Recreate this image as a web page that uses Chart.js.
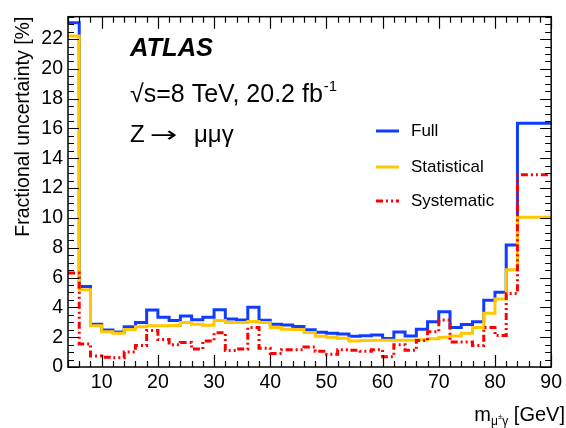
<!DOCTYPE html>
<html>
<head>
<meta charset="utf-8">
<script src="https://cdn.jsdelivr.net/npm/chart.js@4.4.1/dist/chart.umd.min.js"></script>
<style>
  html, body { margin: 0; padding: 0; background: #fff; }
  #c { display: block; }
</style>
</head>
<body>
<canvas id="c" width="566" height="428"></canvas>
<script>
// Bin edges of m(mu gamma) [GeV] and fractional uncertainties [%] per bin
const binEdges = [4, 6, 8, 10, 12, 14, 16, 18, 20, 22, 24, 26, 28, 30, 32, 34, 36, 38, 40, 42, 44,
                  46, 48, 50, 52, 54, 56, 58, 60, 62, 64, 66, 68, 70, 72, 74, 76, 78, 80, 82, 84, 90];
const fullUnc = [23.1, 5.4, 2.87, 2.48, 2.35, 2.7, 2.98, 3.82, 3.33, 3.12, 3.42, 3.17, 3.33, 3.84,
                 3.22, 3.15, 4.01, 3.14, 2.87, 2.81, 2.72, 2.5, 2.33, 2.26, 2.22, 2.06, 2.1, 2.15,
                 1.92, 2.34, 2.08, 2.54, 3.03, 3.7, 2.65, 2.85, 3.03, 4.47, 5.02, 8.18, 16.36];
const statUnc = [22.2, 5.18, 2.77, 2.37, 2.27, 2.52, 2.7, 2.76, 2.76, 2.78, 2.98, 2.87, 2.8, 3.12,
                 2.98, 2.98, 3.05, 2.98, 2.65, 2.54, 2.52, 2.32, 2.06, 2.0, 1.93, 1.75, 1.78, 1.8,
                 1.8, 1.8, 1.8, 1.83, 1.89, 2.0, 2.08, 2.26, 2.65, 3.6, 4.56, 6.53, 10.04];
const systUnc = [6.3, 1.55, 0.73, 0.65, 0.62, 1.0, 1.45, 2.45, 1.85, 1.5, 1.65, 1.2, 1.75, 2.3,
                 1.1, 1.2, 2.65, 1.25, 0.9, 1.16, 1.16, 1.35, 1.05, 0.85, 1.15, 1.12, 1.05, 1.15,
                 0.68, 1.5, 1.12, 1.78, 2.37, 3.15, 1.67, 1.67, 1.45, 2.65, 2.12, 4.93, 12.9];
const xTickValues = [10, 20, 30, 40, 50, 60, 70, 80, 90];
const yTickValues = [0, 2, 4, 6, 8, 10, 12, 14, 16, 18, 20, 22];
const seriesNames = ['Full', 'Statistical', 'Systematic'];

const X_MIN = 4, X_MAX = 90, Y_MIN = 0, Y_MAX = 23.5;
const FONT = '"Liberation Sans", Arial, Helvetica, sans-serif';
const BLUE = '#0f3cff', YELLOW = '#ffc800', RED = '#ff0000';
const RED_DASH = [7, 3, 2, 3, 2, 3];

// histogram outline: one point per lower edge, last value repeated at the upper edge
function steps(values) {
  return binEdges.map((e, i) => ({ x: e, y: values[Math.min(i, values.length - 1)] }));
}

// inward ticks on all four sides plus the frame
const frameTicks = {
  id: 'frameTicks',
  afterDatasetsDraw(chart) {
    const { ctx, chartArea: a, scales: { x, y } } = chart;
    ctx.save();
    ctx.strokeStyle = '#000';
    ctx.lineWidth = 1.2;
    ctx.beginPath();
    for (let v = X_MIN; v <= X_MAX + 1e-6; v += 2) {
      const px = Math.round(x.getPixelForValue(v)) + 0.5;
      const len = (v % 10 === 0) ? 12 : 6;
      ctx.moveTo(px, a.bottom); ctx.lineTo(px, a.bottom - len);
      ctx.moveTo(px, a.top); ctx.lineTo(px, a.top + len);
    }
    for (let v = Y_MIN; v <= Y_MAX + 1e-6; v += 0.5) {
      const py = Math.round(y.getPixelForValue(v)) + 0.5;
      const len = (Math.abs(v % 2) < 1e-6) ? 11 : 6;
      ctx.moveTo(a.left, py); ctx.lineTo(a.left + len, py);
      ctx.moveTo(a.right, py); ctx.lineTo(a.right - len, py);
    }
    ctx.stroke();
    ctx.lineWidth = 1.5;
    ctx.strokeRect(a.left, a.top, a.right - a.left, a.bottom - a.top);
    ctx.restore();
  }
};

// axis titles, labels and the legend
const annotations = {
  id: 'annotations',
  afterDraw(chart) {
    const { ctx, chartArea: a } = chart;
    ctx.save();
    ctx.fillStyle = '#000';

    // y axis title, aligned to the top of the frame
    ctx.save();
    ctx.translate(24, a.top);
    ctx.rotate(-Math.PI / 2);
    ctx.font = '19.5px ' + FONT;
    ctx.textAlign = 'right';
    ctx.textBaseline = 'middle';
    ctx.fillText('Fractional uncertainty [%]', 0, 0);
    ctx.restore();

    // x axis title m_{mu gamma} [GeV], right aligned
    const base = 421;
    const parts = [
      { t: 'm', f: '20px ', dy: 0 },
      { t: 'μ', f: '12px ', dy: 4 },
      { t: '±', f: '8px ', dy: -2 },
      { t: 'γ', f: '12px ', dy: 4 },
      { t: ' [GeV]', f: '20px ', dy: 0 }
    ];
    let total = 0;
    parts.forEach(p => { ctx.font = p.f + FONT; p.w = ctx.measureText(p.t).width; total += p.w; });
    let cx = 565 - total;
    ctx.textAlign = 'left';
    ctx.textBaseline = 'alphabetic';
    parts.forEach(p => { ctx.font = p.f + FONT; ctx.fillText(p.t, cx, base + p.dy); cx += p.w; });

    // experiment label
    ctx.font = 'italic bold 25.5px ' + FONT;
    ctx.fillText('ATLAS', 130, 56);
    ctx.font = '25px ' + FONT;
    const lumi = '√s=8 TeV, 20.2 fb';
    ctx.fillText(lumi, 130, 102);
    const wl = ctx.measureText(lumi).width;
    ctx.font = '15px ' + FONT;
    ctx.fillText('-1', 130 + wl + 1, 91);

    // Z -> mu mu gamma, with a long arrow
    ctx.font = '24px ' + FONT;
    ctx.fillText('Z', 130, 142);
    ctx.save();
    ctx.translate(150, 142);
    ctx.scale(1.5, 1);
    ctx.font = '22px "DejaVu Sans", sans-serif';
    ctx.fillText('→', 0, 0);
    ctx.restore();
    ctx.font = '24px ' + FONT;
    ctx.fillText('μμγ', 194, 142);

    // legend
    const items = [
      { c: BLUE, d: [], y: 131 },
      { c: YELLOW, d: [], y: 167 },
      { c: RED, d: RED_DASH, y: 201 }
    ];
    items.forEach((it, i) => {
      ctx.strokeStyle = it.c;
      ctx.lineWidth = 3;
      ctx.setLineDash(it.d);
      ctx.beginPath();
      ctx.moveTo(376, it.y); ctx.lineTo(399, it.y);
      ctx.stroke();
      ctx.setLineDash([]);
      ctx.font = '17px ' + FONT;
      ctx.textBaseline = 'middle';
      ctx.fillStyle = '#000';
      ctx.fillText(seriesNames[i], 411, it.y);
    });
    ctx.restore();
  }
};

new Chart(document.getElementById('c'), {
  type: 'line',
  data: {
    datasets: [
      { label: seriesNames[2], data: steps(systUnc), borderColor: RED, borderDash: RED_DASH, order: 1 },
      { label: seriesNames[1], data: steps(statUnc), borderColor: YELLOW, order: 2 },
      { label: seriesNames[0], data: steps(fullUnc), borderColor: BLUE, order: 3 }
    ].map(d => Object.assign({
      stepped: 'before', borderWidth: 3, pointRadius: 0, fill: false, tension: 0
    }, d))
  },
  options: {
    responsive: false,
    animation: false,
    devicePixelRatio: 1,
    layout: { padding: { top: 9, right: 3, left: 0, bottom: 0 } },
    plugins: { legend: { display: false }, tooltip: { enabled: false } },
    scales: {
      x: {
        type: 'linear', min: X_MIN, max: X_MAX,
        grid: { display: false, drawTicks: false },
        border: { display: false },
        afterBuildTicks: s => { s.ticks = xTickValues.map(v => ({ value: v })); },
        afterFit: s => { s.height = 61; },
        ticks: { color: '#000', font: { family: FONT, size: 19.5 }, padding: 4, maxRotation: 0, autoSkip: false }
      },
      y: {
        type: 'linear', min: Y_MIN, max: Y_MAX,
        grid: { display: false, drawTicks: false },
        border: { display: false },
        afterBuildTicks: s => { s.ticks = yTickValues.map(v => ({ value: v })); },
        afterFit: s => { s.width = 68; },
        ticks: { color: '#000', font: { family: FONT, size: 19.5 }, padding: 5, autoSkip: false }
      }
    }
  },
  plugins: [frameTicks, annotations]
});
</script>
</body>
</html>
